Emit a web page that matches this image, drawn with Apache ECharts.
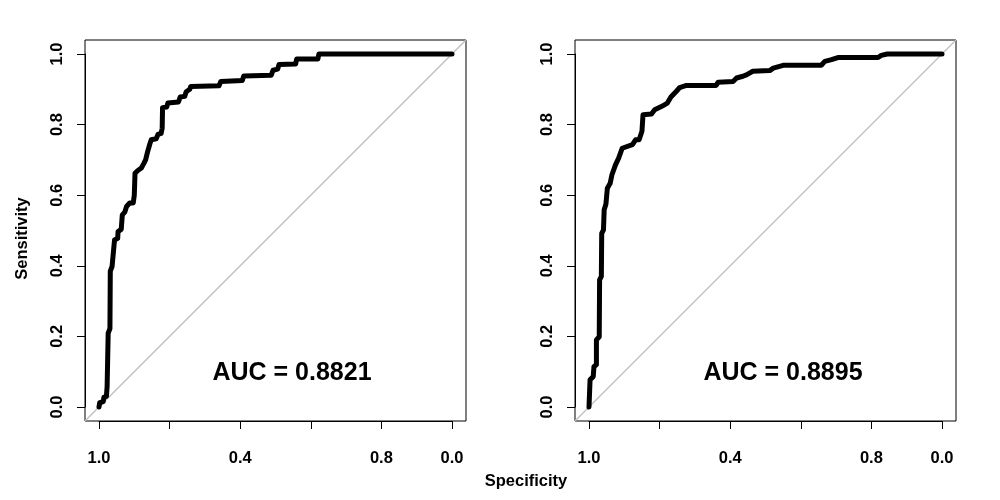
<!DOCTYPE html>
<html>
<head>
<meta charset="utf-8">
<script src="https://cdn.jsdelivr.net/npm/echarts@6/dist/echarts.min.js"></script>
<style>
  html, body { margin: 0; padding: 0; background: #fff; }
  #chart { width: 1000px; height: 500px; }
</style>
</head>
<body>
<div id="chart"></div>
<script>
// ROC curve A (left panel): specificity / sensitivity vertices
var specA = [1.0, 0.998, 0.988, 0.986, 0.979, 0.977, 0.974, 0.974, 0.969, 0.968, 0.963, 0.958, 0.956, 0.947, 0.946, 0.937,
  0.934, 0.927, 0.922, 0.913, 0.903, 0.900, 0.898, 0.890, 0.880, 0.873, 0.868, 0.862, 0.856, 0.852, 0.838, 0.833,
  0.824, 0.821, 0.820, 0.808, 0.805, 0.775, 0.770, 0.757, 0.753, 0.743, 0.740, 0.660, 0.655, 0.594, 0.590, 0.512,
  0.507, 0.494, 0.490, 0.443, 0.440, 0.380, 0.377, 0.0];
var sensA = [0, 0.012, 0.015, 0.028, 0.030, 0.058, 0.060, 0.209, 0.222, 0.385, 0.398, 0.400, 0.473, 0.478, 0.497, 0.503,
  0.544, 0.552, 0.568, 0.578, 0.578, 0.600, 0.662, 0.670, 0.677, 0.690, 0.700, 0.724, 0.745, 0.757, 0.760, 0.772,
  0.775, 0.790, 0.848, 0.850, 0.861, 0.864, 0.878, 0.880, 0.893, 0.900, 0.908, 0.910, 0.922, 0.925, 0.938, 0.940,
  0.954, 0.957, 0.970, 0.972, 0.986, 0.986, 1.0, 1.0];

// ROC curve B (right panel)
var specB = [1.0, 0.997, 0.988, 0.986, 0.979, 0.979, 0.971, 0.970, 0.965, 0.964, 0.959, 0.957, 0.952, 0.948, 0.940, 0.935,
  0.925, 0.916, 0.906, 0.877, 0.868, 0.858, 0.850, 0.847, 0.823, 0.814, 0.795, 0.778, 0.768, 0.753, 0.743, 0.724,
  0.640, 0.634, 0.592, 0.582, 0.564, 0.554, 0.536, 0.488, 0.478, 0.450, 0.342, 0.332, 0.313, 0.295, 0.181, 0.172,
  0.155, 0.0];
var sensB = [0, 0.077, 0.086, 0.114, 0.120, 0.190, 0.199, 0.360, 0.370, 0.492, 0.502, 0.559, 0.575, 0.620, 0.634, 0.658,
  0.686, 0.705, 0.733, 0.743, 0.757, 0.757, 0.781, 0.828, 0.830, 0.842, 0.851, 0.861, 0.878, 0.894, 0.905, 0.911,
  0.911, 0.920, 0.922, 0.932, 0.937, 0.941, 0.951, 0.953, 0.960, 0.968, 0.968, 0.979, 0.984, 0.990, 0.990, 0.996,
  1.0, 1.0];

var aucLabels = ['AUC = 0.8821', 'AUC = 0.8895'];

// chance diagonal across the whole (expanded) plot box
var diagSpec = [1.04, -0.04];
var diagSens = [-0.04, 1.04];

// x ticks 1.0 .. 0.0 and the labels printed under them
var xTickValues = [1.0, 0.8, 0.6, 0.4, 0.2, 0.0];
var xTickLabels = ['1.0', '', '0.4', '', '0.8', '0.0'];

var FONT = "'Liberation Sans', Arial, Helvetica, sans-serif";

function pairs(xs, ys) {
  return xs.map(function (x, i) { return [x, ys[i]]; });
}

function xLabel(v) {
  for (var i = 0; i < xTickValues.length; i++) {
    if (Math.abs(xTickValues[i] - v) < 1e-6) return xTickLabels[i];
  }
  return '';
}

var chart = echarts.init(document.getElementById('chart'));

// each panel: outer grid = box (R's 4% expanded range), inner grid = data range 0..1
var panelLeft = [85, 575];
var grids = [], xAxes = [], yAxes = [], series = [];

panelLeft.forEach(function (left, p) {
  var outer = p * 2, inner = p * 2 + 1;
  grids.push({ left: left, top: 40, width: 381, height: 381, show: true,
    borderColor: '#000', borderWidth: 1, backgroundColor: 'transparent', outerBoundsMode: 'none' });
  grids.push({ left: left + 14, top: 54, width: 353, height: 353, outerBoundsMode: 'none' });

  xAxes.push({ gridIndex: outer, type: 'value', min: -0.04, max: 1.04, inverse: true, show: false });
  yAxes.push({ gridIndex: outer, type: 'value', min: -0.04, max: 1.04, show: false });

  xAxes.push({
    gridIndex: inner, type: 'value', min: 0, max: 1, interval: 0.2, inverse: true,
    position: 'bottom', offset: 14,
    axisLine: { show: true, onZero: false, lineStyle: { color: '#000', width: 1 } },
    axisTick: { show: true, length: 8, lineStyle: { color: '#000', width: 1 } },
    axisLabel: { margin: 29, formatter: xLabel, color: '#000', fontSize: 16.5, fontWeight: 'bold', fontFamily: FONT },
    splitLine: { show: false }
  });
  yAxes.push({
    gridIndex: inner, type: 'value', min: 0, max: 1, interval: 0.2,
    position: 'left', offset: 14,
    axisLine: { show: true, onZero: false, lineStyle: { color: '#000', width: 1 } },
    axisTick: { show: true, length: 8, lineStyle: { color: '#000', width: 1 } },
    axisLabel: { margin: 19, rotate: 90, formatter: function (v) { return v.toFixed(1); },
      color: '#000', fontSize: 16.5, fontWeight: 'bold', fontFamily: FONT },
    splitLine: { show: false }
  });

  series.push({
    type: 'line', xAxisIndex: outer, yAxisIndex: outer, data: pairs(diagSpec, diagSens),
    showSymbol: false, silent: true, clip: false, z: 1,
    lineStyle: { color: '#bebebe', width: 1.2 }
  });
  series.push({
    type: 'line', xAxisIndex: inner, yAxisIndex: inner,
    data: p === 0 ? pairs(specA, sensA) : pairs(specB, sensB),
    showSymbol: false, silent: true, clip: false, z: 3,
    lineStyle: { color: '#000', width: 5, join: 'round', cap: 'round' }
  });
});

var option = {
  animation: false,
  backgroundColor: '#fff',
  grid: grids,
  xAxis: xAxes,
  yAxis: yAxes,
  series: series,
  graphic: [
    { type: 'text', x: 292, y: 373, style: { text: aucLabels[0], fill: '#000', align: 'center', verticalAlign: 'middle',
      font: 'bold 25px ' + FONT } },
    { type: 'text', x: 783, y: 373, style: { text: aucLabels[1], fill: '#000', align: 'center', verticalAlign: 'middle',
      font: 'bold 25px ' + FONT } },
    { type: 'text', x: 22, y: 238.5, rotation: Math.PI / 2, style: { text: 'Sensitivity', fill: '#000', align: 'center',
      verticalAlign: 'middle', font: 'bold 16.5px ' + FONT } },
    { type: 'text', x: 526, y: 481, style: { text: 'Specificity', fill: '#000', align: 'center',
      verticalAlign: 'middle', font: 'bold 16.5px ' + FONT } }
  ]
};

chart.setOption(option);
</script>
</body>
</html>
